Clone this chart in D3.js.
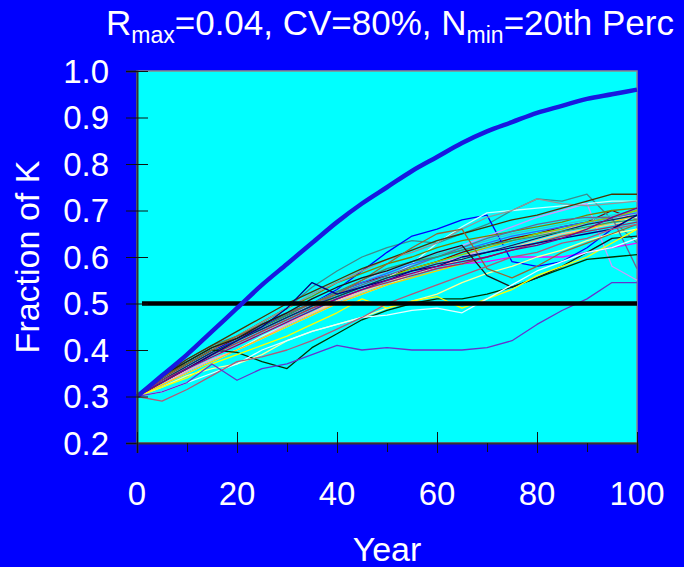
<!DOCTYPE html>
<html>
<head>
<meta charset="utf-8">
<script src="https://cdn.jsdelivr.net/npm/d3@7"></script>
<style>
    html, body { margin: 0; padding: 0; background: #0000ff; }
    svg { display: block; }
    text { font-family: 'Liberation Sans', Arial, sans-serif; fill: #ffffff; }
</style>
</head>
<body>
<div class="chart-container"></div>
<script>
// Data (years every 5).
const years = [0, 5, 10, 15, 20, 25, 30, 35, 40, 45, 50, 55, 60, 65, 70, 75, 80, 85, 90, 95, 100];
const yTicks = [0.2, 0.3, 0.4, 0.5, 0.6, 0.7, 0.8, 0.9, 1.0];
const xTicks = [0, 20, 40, 60, 80, 100];
const xMinorTicks = [10, 30, 50, 70, 90];
const threshold = 0.5;
const thresholdYears = [1, 100];

// deterministic curve
const deterministic = [0.30, 0.345, 0.39, 0.44, 0.49, 0.54, 0.585, 0.63, 0.675, 0.715, 0.75,
    0.785, 0.815, 0.845, 0.87, 0.89, 0.91, 0.925, 0.94, 0.95, 0.96];

// simulated runs
const runs = [
    [0.30, 0.335, 0.36, 0.39, 0.415, 0.44, 0.465, 0.49, 0.51, 0.53, 0.55, 0.565, 0.575, 0.585, 0.59, 0.60, 0.60, 0.60, 0.61, 0.62, 0.63],
    [0.30, 0.34, 0.37, 0.40, 0.425, 0.45, 0.475, 0.50, 0.525, 0.545, 0.56, 0.575, 0.59, 0.61, 0.625, 0.64, 0.65, 0.665, 0.675, 0.70, 0.68],
    [0.30, 0.34, 0.38, 0.41, 0.43, 0.46, 0.49, 0.535, 0.57, 0.60, 0.62, 0.635, 0.63, 0.65, 0.67, 0.70, 0.725, 0.72, 0.735, 0.68, 0.63],
    [0.30, 0.34, 0.37, 0.40, 0.42, 0.45, 0.48, 0.50, 0.53, 0.57, 0.61, 0.645, 0.66, 0.68, 0.69, 0.59, 0.58, 0.59, 0.62, 0.66, 0.69],
    [0.30, 0.33, 0.36, 0.385, 0.41, 0.435, 0.46, 0.485, 0.51, 0.53, 0.55, 0.57, 0.585, 0.60, 0.615, 0.63, 0.645, 0.66, 0.67, 0.685, 0.695],
    [0.30, 0.325, 0.35, 0.375, 0.40, 0.43, 0.455, 0.48, 0.505, 0.53, 0.555, 0.585, 0.63, 0.665, 0.695, 0.70, 0.705, 0.71, 0.715, 0.72, 0.72],
    [0.30, 0.33, 0.355, 0.38, 0.40, 0.425, 0.45, 0.475, 0.50, 0.52, 0.54, 0.56, 0.58, 0.595, 0.61, 0.625, 0.64, 0.655, 0.665, 0.675, 0.685],
    [0.30, 0.32, 0.345, 0.36, 0.37, 0.39, 0.42, 0.44, 0.455, 0.47, 0.49, 0.505, 0.52, 0.545, 0.565, 0.58, 0.60, 0.615, 0.635, 0.65, 0.66],
    [0.30, 0.335, 0.365, 0.39, 0.415, 0.44, 0.46, 0.48, 0.50, 0.525, 0.545, 0.565, 0.58, 0.60, 0.615, 0.625, 0.64, 0.655, 0.665, 0.675, 0.69],
    [0.30, 0.325, 0.355, 0.38, 0.40, 0.425, 0.455, 0.48, 0.505, 0.53, 0.55, 0.57, 0.585, 0.60, 0.62, 0.635, 0.645, 0.66, 0.67, 0.68, 0.695],
    [0.30, 0.335, 0.365, 0.395, 0.42, 0.445, 0.47, 0.50, 0.525, 0.55, 0.57, 0.59, 0.61, 0.625, 0.645, 0.665, 0.685, 0.70, 0.715, 0.58, 0.55],
    [0.30, 0.33, 0.36, 0.385, 0.41, 0.435, 0.46, 0.48, 0.505, 0.525, 0.545, 0.565, 0.58, 0.595, 0.61, 0.62, 0.635, 0.65, 0.66, 0.67, 0.68],
    [0.30, 0.335, 0.37, 0.40, 0.43, 0.455, 0.48, 0.50, 0.525, 0.545, 0.565, 0.585, 0.60, 0.615, 0.63, 0.645, 0.655, 0.665, 0.675, 0.685, 0.695],
    [0.30, 0.34, 0.37, 0.40, 0.43, 0.455, 0.48, 0.51, 0.535, 0.555, 0.575, 0.59, 0.605, 0.62, 0.635, 0.65, 0.66, 0.67, 0.68, 0.69, 0.70],
    [0.30, 0.33, 0.36, 0.39, 0.415, 0.44, 0.465, 0.49, 0.515, 0.535, 0.555, 0.575, 0.59, 0.605, 0.62, 0.635, 0.65, 0.66, 0.675, 0.685, 0.70],
    [0.30, 0.325, 0.35, 0.375, 0.40, 0.425, 0.45, 0.475, 0.50, 0.52, 0.54, 0.555, 0.57, 0.585, 0.60, 0.615, 0.63, 0.645, 0.66, 0.675, 0.69],
    [0.30, 0.34, 0.375, 0.405, 0.43, 0.46, 0.49, 0.515, 0.545, 0.565, 0.585, 0.60, 0.62, 0.635, 0.645, 0.655, 0.665, 0.675, 0.69, 0.70, 0.705],
    [0.30, 0.335, 0.365, 0.395, 0.42, 0.445, 0.47, 0.495, 0.52, 0.54, 0.56, 0.58, 0.60, 0.62, 0.64, 0.655, 0.67, 0.68, 0.685, 0.685, 0.575],
    [0.30, 0.335, 0.37, 0.40, 0.43, 0.46, 0.49, 0.52, 0.545, 0.57, 0.595, 0.61, 0.63, 0.66, 0.685, 0.70, 0.725, 0.715, 0.71, 0.715, 0.72],
    [0.30, 0.335, 0.365, 0.395, 0.42, 0.445, 0.47, 0.495, 0.515, 0.535, 0.555, 0.57, 0.585, 0.595, 0.61, 0.625, 0.64, 0.655, 0.67, 0.68, 0.69],
    [0.30, 0.33, 0.36, 0.39, 0.42, 0.45, 0.475, 0.50, 0.525, 0.55, 0.575, 0.59, 0.60, 0.615, 0.625, 0.635, 0.645, 0.655, 0.665, 0.675, 0.68],
    [0.30, 0.34, 0.37, 0.40, 0.395, 0.375, 0.36, 0.405, 0.435, 0.465, 0.485, 0.50, 0.51, 0.51, 0.52, 0.535, 0.555, 0.575, 0.595, 0.60, 0.605],
    [0.30, 0.345, 0.38, 0.41, 0.44, 0.47, 0.50, 0.525, 0.55, 0.575, 0.595, 0.615, 0.635, 0.65, 0.665, 0.68, 0.69, 0.705, 0.72, 0.735, 0.735],
    [0.30, 0.34, 0.37, 0.40, 0.43, 0.455, 0.48, 0.50, 0.52, 0.55, 0.585, 0.62, 0.65, 0.66, 0.575, 0.555, 0.58, 0.61, 0.63, 0.65, 0.67],
    [0.30, 0.335, 0.36, 0.39, 0.415, 0.44, 0.465, 0.49, 0.51, 0.53, 0.545, 0.56, 0.575, 0.585, 0.60, 0.615, 0.63, 0.645, 0.655, 0.665, 0.675],
    [0.30, 0.33, 0.36, 0.39, 0.42, 0.45, 0.49, 0.545, 0.52, 0.535, 0.55, 0.57, 0.58, 0.60, 0.61, 0.62, 0.63, 0.64, 0.65, 0.66, 0.69],
    [0.30, 0.345, 0.375, 0.405, 0.425, 0.455, 0.48, 0.51, 0.535, 0.555, 0.57, 0.59, 0.61, 0.625, 0.56, 0.535, 0.555, 0.58, 0.61, 0.64, 0.645],
    [0.30, 0.33, 0.36, 0.385, 0.41, 0.435, 0.46, 0.485, 0.51, 0.53, 0.55, 0.565, 0.58, 0.59, 0.60, 0.615, 0.625, 0.64, 0.66, 0.685, 0.705],
    [0.30, 0.32, 0.34, 0.37, 0.39, 0.41, 0.43, 0.455, 0.48, 0.51, 0.49, 0.505, 0.515, 0.49, 0.51, 0.53, 0.56, 0.58, 0.60, 0.63, 0.66],
    [0.30, 0.31, 0.33, 0.35, 0.37, 0.40, 0.42, 0.44, 0.455, 0.47, 0.475, 0.485, 0.49, 0.48, 0.51, 0.54, 0.57, 0.59, 0.61, 0.62, 0.64],
    [0.30, 0.29, 0.315, 0.345, 0.375, 0.385, 0.40, 0.42, 0.445, 0.47, 0.50, 0.52, 0.54, 0.56, 0.58, 0.60, 0.61, 0.63, 0.64, 0.66, 0.67],
    [0.30, 0.31, 0.33, 0.37, 0.335, 0.36, 0.37, 0.39, 0.41, 0.40, 0.405, 0.40, 0.40, 0.40, 0.405, 0.42, 0.455, 0.485, 0.51, 0.545, 0.545]
];

const runColors = [
    '#ff00ff', '#800000', '#3d8c8c', '#0000ff', '#00ccff', '#ccffff', '#ccffcc', '#ffff99',
    '#99ccff', '#ff99cc', '#cc99ff', '#ffcc99', '#3366ff', '#33cccc', '#99cc00', '#ffcc00',
    '#808000', '#666699', '#969696', '#003366', '#339966', '#003300', '#4d3300', '#996633',
    '#993366', '#000080', '#1a1a1a', '#800080', '#ffff00', '#e6ffff', '#b05a7a', '#6633cc'
];

const svg = d3
    .select('.chart-container')
    .append('svg')
    .attr('width', 684)
    .attr('height', 567);

function baseDimension() {
    const margin = {top: 71, right: 47, bottom: 124, left: 137};
    const width = 684 - margin.left - margin.right;
    const height = 567 - margin.top - margin.bottom;
    return {margin: margin, width: width, height: height};
}

const area = baseDimension();

const xScale = d3.scaleLinear()
    .domain([0, 100])
    .range([0, area.width]);

const yScale = d3.scaleLinear()
    .domain([0.2, 1.0])
    .range([area.height, 0]);

const lineGenerator = d3.line()
    .x((d, i) => xScale(years[i]))
    .y(d => yScale(d));

const plot = svg.append('g')
    .attr('transform', `translate(${area.margin.left}, ${area.margin.top})`);

drawBackground();
drawRuns();
drawThreshold();
drawDeterministic();
drawAxes();
drawTexts();

function drawBackground() {
    plot.append('rect')
        .attr('x', 0)
        .attr('y', 0)
        .attr('width', area.width)
        .attr('height', area.height)
        .style('fill', '#00ffff')
        .style('stroke', '#8a8a8a')
        .style('stroke-width', 1.5);
}

function drawRuns() {
    plot.append('g')
        .selectAll('.run')
        .data(runs)
        .enter()
        .append('path')
        .attr('class', 'run')
        .attr('d', lineGenerator)
        .style('fill', 'none')
        .style('stroke', (d, i) => runColors[i % runColors.length])
        .style('stroke-width', 1.3)
        .style('stroke-linejoin', 'round');
}

function drawThreshold() {
    plot.append('line')
        .attr('x1', xScale(thresholdYears[0]))
        .attr('x2', xScale(thresholdYears[1]))
        .attr('y1', yScale(threshold))
        .attr('y2', yScale(threshold))
        .style('stroke', '#000000')
        .style('stroke-width', 4.5);
}

function drawDeterministic() {
    plot.append('path')
        .datum(deterministic)
        .attr('d', lineGenerator.curve(d3.curveMonotoneX))
        .style('fill', 'none')
        .style('stroke', '#1818e0')
        .style('stroke-width', 4.5);
    lineGenerator.curve(d3.curveLinear);
}

function drawAxes() {
    const axisY = d3.axisLeft(yScale)
        .tickValues(yTicks)
        .tickSize(11)
        .tickFormat('');
    const gy = plot.append('g').call(axisY);
    gy.selectAll('.tick line').attr('x1', 11).attr('stroke', '#111');
    gy.select('.domain').attr('stroke', '#333').attr('stroke-width', 2);

    const axisX = d3.axisBottom(xScale)
        .tickValues(xTicks)
        .tickSize(10)
        .tickFormat('');
    const gx = plot.append('g')
        .attr('transform', `translate(0, ${area.height})`)
        .call(axisX);
    gx.selectAll('.tick line').attr('y1', -11).attr('stroke', '#111');
    gx.select('.domain').attr('stroke', '#333').attr('stroke-width', 2);

    const axisXMinor = d3.axisBottom(xScale)
        .tickValues(xMinorTicks)
        .tickSize(9)
        .tickSizeOuter(0)
        .tickFormat('');
    const gxm = plot.append('g')
        .attr('transform', `translate(0, ${area.height})`)
        .call(axisXMinor);
    gxm.selectAll('.tick line').attr('stroke', '#111');
    gxm.select('.domain').remove();

    // tick labels
    plot.append('g')
        .selectAll('text')
        .data(yTicks)
        .enter()
        .append('text')
        .attr('x', -28)
        .attr('y', d => yScale(d))
        .attr('dy', '0.36em')
        .style('text-anchor', 'end')
        .style('font-size', '33px')
        .text(d => d.toFixed(1));

    plot.append('g')
        .selectAll('text')
        .data(xTicks)
        .enter()
        .append('text')
        .attr('x', d => xScale(d))
        .attr('y', area.height + 62)
        .style('text-anchor', 'middle')
        .style('font-size', '33px')
        .text(d => d);
}

function drawTexts() {
    const title = svg.append('text')
        .attr('x', 106)
        .attr('y', 35)
        .style('font-size', '35px');
    title.append('tspan').text('R');
    title.append('tspan').attr('dy', 8).style('font-size', '23px').text('max');
    title.append('tspan').attr('dy', -8).text('=0.04, CV=80%, N');
    title.append('tspan').attr('dy', 8).style('font-size', '23px').text('min');
    title.append('tspan').attr('dy', -8).text('=20th Perc');

    svg.append('text')
        .attr('x', area.margin.left + area.width / 2)
        .attr('y', 561)
        .style('text-anchor', 'middle')
        .style('font-size', '34px')
        .text('Year');

    svg.append('text')
        .attr('transform', `translate(39, ${area.margin.top + area.height / 2}) rotate(-90)`)
        .style('text-anchor', 'middle')
        .style('font-size', '34px')
        .text('Fraction of K');
}
</script>
</body>
</html>
